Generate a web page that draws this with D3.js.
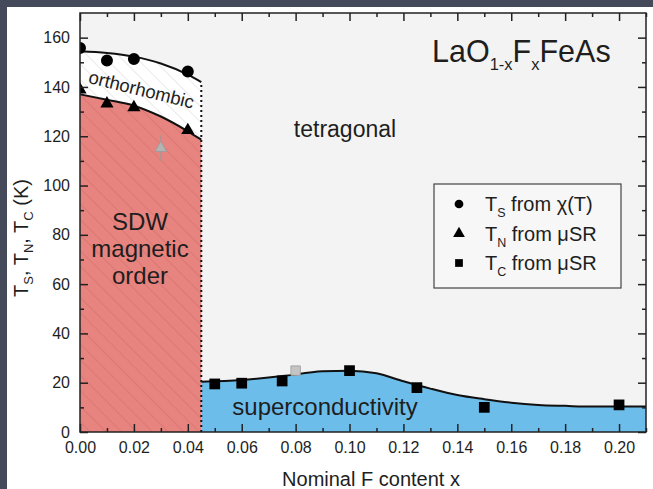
<!DOCTYPE html>
<html>
<head>
<meta charset="utf-8">
<script src="https://cdn.jsdelivr.net/npm/d3@7"></script>
<style>
	body { margin: 0; background: #444a5a; }
	svg { display: block; }
	text { font-family: "Liberation Sans", Arial, sans-serif; fill: #1e1e1e; }
</style>
</head>
<body>
<div id="chart"></div>
<script>
// measured points (x = nominal F content, T in K)
var tsX = [0.00, 0.01, 0.02, 0.04],
	tsVal = [155.8, 150.7, 151.3, 146.3];
var tnX = [0.00, 0.01, 0.02, 0.04],
	tnVal = [138.9, 133.2, 131.7, 122.4];
var tcX = [0.05, 0.06, 0.075, 0.10, 0.125, 0.15, 0.20],
	tcVal = [19.5, 19.8, 20.7, 24.9, 18.0, 10.0, 11.0];
// grey points from other work
var greyTn = {x: 0.03, t: 115.2, err: 5.2},
	greyTc = {x: 0.08, t: 24.9};

// phase boundary lines
var bndX = [0.00, 0.01, 0.02, 0.03, 0.04, 0.045],
	bndTs = [154.5, 153.8, 152.3, 149.5, 145.0, 142.0],
	bndTn = [137.0, 134.8, 132.4, 128.0, 122.0, 118.6];
var scX = [0.045, 0.06, 0.075, 0.09, 0.10, 0.11, 0.12, 0.13, 0.14, 0.15, 0.16, 0.17, 0.18, 0.19, 0.20, 0.21],
	scVal = [20.4, 21.1, 22.7, 24.6, 24.9, 23.8, 20.6, 17.6, 15.0, 13.3, 11.9, 11.0, 10.6, 10.3, 10.3, 10.3];
var xBorder = 0.045;

var xTicks = [0, 0.02, 0.04, 0.06, 0.08, 0.10, 0.12, 0.14, 0.16, 0.18, 0.20],
	yTicks = [0, 20, 40, 60, 80, 100, 120, 140, 160];

var legendRows = [
	{sym: d3.symbolCircle, main: "T", sub: "S", rest: " from \u03c7(T)"},
	{sym: d3.symbolTriangle, main: "T", sub: "N", rest: " from \u03bcSR"},
	{sym: d3.symbolSquare, main: "T", sub: "C", rest: " from \u03bcSR"}
];

(function () {
	var width = 653, height = 489;
	var left = 80, right = 646, top = 13, bottom = 432;

	var x = d3.scaleLinear().domain([0, 0.21]).range([left, right]),
		y = d3.scaleLinear().domain([0, 170]).range([bottom, top]);

	var svg = d3.select("#chart").append("svg")
		.attr("width", width).attr("height", height);

	svg.append("rect").attr("width", width).attr("height", height).attr("fill", "#444a5a");
	svg.append("rect").attr("x", 7).attr("y", 7).attr("width", width - 7).attr("height", height - 7)
		.attr("fill", "#ffffff");

	var defs = svg.append("defs");
	defs.append("clipPath").attr("id", "plotclip").append("rect")
		.attr("x", left).attr("y", top).attr("width", right - left).attr("height", bottom - top);

	function hatch(id, col) {
		var p = defs.append("pattern").attr("id", id)
			.attr("patternUnits", "userSpaceOnUse")
			.attr("width", 11).attr("height", 11)
			.attr("patternTransform", "rotate(-45)");
		p.append("line").attr("x1", 0).attr("y1", 0).attr("x2", 0).attr("y2", 11)
			.attr("stroke", col).attr("stroke-width", 1.2);
	}
	hatch("hatchRed", "rgba(160,70,70,0.35)");
	hatch("hatchGrey", "#dcdcdc");

	var g = svg.append("g").attr("clip-path", "url(#plotclip)");
	g.append("rect").attr("x", left).attr("y", top).attr("width", right - left).attr("height", bottom - top)
		.attr("fill", "#f3f3f3");

	var bnd = bndX.map(function (d, i) { return {x: d, ts: bndTs[i], tn: bndTn[i]}; });
	var sc = scX.map(function (d, i) { return {x: d, t: scVal[i]}; });

	// superconducting dome
	var scArea = d3.area().curve(d3.curveMonotoneX)
		.x(function (d) { return x(d.x); })
		.y0(y(0)).y1(function (d) { return y(d.t); });
	g.append("path").datum(sc).attr("d", scArea).attr("fill", "#6dbdea");

	// SDW region
	var sdwArea = d3.area().curve(d3.curveMonotoneX)
		.x(function (d) { return x(d.x); })
		.y0(y(0)).y1(function (d) { return y(d.tn); });
	g.append("path").datum(bnd).attr("d", sdwArea).attr("fill", "#e8847f");
	g.append("path").datum(bnd).attr("d", sdwArea).attr("fill", "url(#hatchRed)");

	// orthorhombic band
	var orthoArea = d3.area().curve(d3.curveMonotoneX)
		.x(function (d) { return x(d.x); })
		.y0(function (d) { return y(d.tn); }).y1(function (d) { return y(d.ts); });
	g.append("path").datum(bnd).attr("d", orthoArea).attr("fill", "#ffffff");
	g.append("path").datum(bnd).attr("d", orthoArea).attr("fill", "url(#hatchGrey)");

	// boundary lines
	var lineTs = d3.line().curve(d3.curveMonotoneX).x(function (d) { return x(d.x); }).y(function (d) { return y(d.ts); });
	var lineTn = d3.line().curve(d3.curveMonotoneX).x(function (d) { return x(d.x); }).y(function (d) { return y(d.tn); });
	var lineSc = d3.line().curve(d3.curveMonotoneX).x(function (d) { return x(d.x); }).y(function (d) { return y(d.t); });
	g.append("path").datum(bnd).attr("d", lineTs).attr("fill", "none").attr("stroke", "#111").attr("stroke-width", 2);
	g.append("path").datum(bnd).attr("d", lineTn).attr("fill", "none").attr("stroke", "#111").attr("stroke-width", 2);
	g.append("path").datum(sc).attr("d", lineSc).attr("fill", "none").attr("stroke", "#111").attr("stroke-width", 2);

	g.append("line").attr("x1", x(xBorder)).attr("x2", x(xBorder))
		.attr("y1", y(0)).attr("y2", y(bndTs[bndTs.length - 1]))
		.attr("stroke", "#111").attr("stroke-width", 2).attr("stroke-dasharray", "2,3");

	// grey points
	g.append("line").attr("x1", x(greyTn.x)).attr("x2", x(greyTn.x))
		.attr("y1", y(greyTn.t - greyTn.err)).attr("y2", y(greyTn.t + greyTn.err))
		.attr("stroke", "#999").attr("stroke-width", 1);
	g.append("path").attr("d", d3.symbol(d3.symbolTriangle, 60)())
		.attr("transform", "translate(" + x(greyTn.x) + "," + y(greyTn.t) + ")")
		.attr("fill", "#b4b4b4").attr("stroke", "#999").attr("stroke-width", 0.8);
	g.append("path").attr("d", d3.symbol(d3.symbolSquare, 90)())
		.attr("transform", "translate(" + x(greyTc.x) + "," + y(greyTc.t) + ")")
		.attr("fill", "#c4c4c4").attr("stroke", "#999").attr("stroke-width", 0.8);

	function markers(xs, vs, sym, size) {
		g.selectAll(null).data(xs).enter().append("path")
			.attr("d", d3.symbol(sym, size)())
			.attr("transform", function (d, i) { return "translate(" + x(d) + "," + y(vs[i]) + ")"; })
			.attr("fill", "#000");
	}
	markers(tsX, tsVal, d3.symbolCircle, 113);
	markers(tnX, tnVal, d3.symbolTriangle, 75);
	markers(tcX, tcVal, d3.symbolSquare, 115);

	// axes, ticks pointing in
	var minorX = d3.range(0, 0.211, 0.01).filter(function (d) { return Math.round(d * 100) % 2 == 1; }),
		minorY = d3.range(10, 170, 20);

	function styleAxis(sel) {
		sel.select(".domain").remove();
		sel.selectAll("line").attr("stroke", "#222").attr("stroke-width", 1.5);
		sel.selectAll("text").attr("font-size", 16).attr("fill", "#222")
			.attr("font-family", "Liberation Sans, Arial, sans-serif");
	}
	var ax = [
		[d3.axisBottom(x).tickValues(xTicks).tickFormat(d3.format(".2f")), bottom, 0],
		[d3.axisTop(x).tickValues(xTicks).tickFormat(""), top, 0],
		[d3.axisLeft(y).tickValues(yTicks).tickFormat(d3.format("d")), 0, left],
		[d3.axisRight(y).tickValues(yTicks).tickFormat(""), 0, right]
	];
	ax.forEach(function (a) {
		svg.append("g").attr("transform", "translate(" + a[2] + "," + a[1] + ")")
			.call(a[0].tickSize(-8).tickPadding(10)).call(styleAxis);
	});
	var axm = [
		[d3.axisBottom(x).tickValues(minorX), bottom, 0],
		[d3.axisTop(x).tickValues(minorX), top, 0],
		[d3.axisLeft(y).tickValues(minorY), 0, left],
		[d3.axisRight(y).tickValues(minorY), 0, right]
	];
	axm.forEach(function (a) {
		svg.append("g").attr("transform", "translate(" + a[2] + "," + a[1] + ")")
			.call(a[0].tickSize(-4).tickFormat("")).call(styleAxis);
	});

	svg.append("rect").attr("x", left).attr("y", top).attr("width", right - left).attr("height", bottom - top)
		.attr("fill", "none").attr("stroke", "#222").attr("stroke-width", 1.5);

	// axis titles
	svg.append("text").attr("x", 371).attr("y", 486).attr("text-anchor", "middle")
		.attr("font-size", 20).text("Nominal F content x");

	var yt = svg.append("text").attr("transform", "translate(28,238) rotate(-90)")
		.attr("text-anchor", "middle").attr("font-size", 20);
	[["T", "S", ", "], ["T", "N", ", "], ["T", "C", " (K)"]].forEach(function (p) {
		yt.append("tspan").text(p[0]);
		yt.append("tspan").attr("font-size", 13).attr("dy", 5).text(p[1]);
		yt.append("tspan").attr("dy", -5).text(p[2]);
	});

	// compound name
	var ttl = svg.append("text").attr("x", 432).attr("y", 62).attr("font-size", 30.5);
	ttl.append("tspan").text("LaO");
	ttl.append("tspan").attr("font-size", 16.5).attr("dy", 8).text("1-x");
	ttl.append("tspan").attr("dy", -8).text("F");
	ttl.append("tspan").attr("font-size", 16.5).attr("dy", 8).text("x");
	ttl.append("tspan").attr("dy", -8).text("FeAs");

	// phase labels
	svg.append("text").attr("x", 345).attr("y", 137).attr("text-anchor", "middle")
		.attr("font-size", 23).text("tetragonal");
	svg.append("text").attr("x", 325).attr("y", 415).attr("text-anchor", "middle")
		.attr("font-size", 24).text("superconductivity");
	svg.append("text").attr("transform", "translate(141,91) rotate(14)")
		.attr("text-anchor", "middle").attr("dominant-baseline", "middle")
		.attr("font-size", 18.5).text("orthorhombic");
	["SDW", "magnetic", "order"].forEach(function (s, i) {
		svg.append("text").attr("x", 140).attr("y", 230 + i * 27).attr("text-anchor", "middle")
			.attr("font-size", 24).text(s);
	});

	// legend
	var lg = svg.append("g").attr("transform", "translate(434,184)");
	lg.append("rect").attr("width", 187).attr("height", 104)
		.attr("fill", "#f7f7f7").attr("stroke", "#444").attr("stroke-width", 1.2);
	legendRows.forEach(function (r, i) {
		var ry = 20 + i * 29.5;
		lg.append("path").attr("d", d3.symbol(r.sym, 60)())
			.attr("transform", "translate(25," + ry + ")").attr("fill", "#000");
		var t = lg.append("text").attr("x", 51).attr("y", ry + 7).attr("font-size", 20);
		t.append("tspan").text(r.main);
		t.append("tspan").attr("font-size", 12.5).attr("dy", 6).text(r.sub);
		t.append("tspan").attr("dy", -6).text(r.rest);
	});
})();
</script>
</body>
</html>
